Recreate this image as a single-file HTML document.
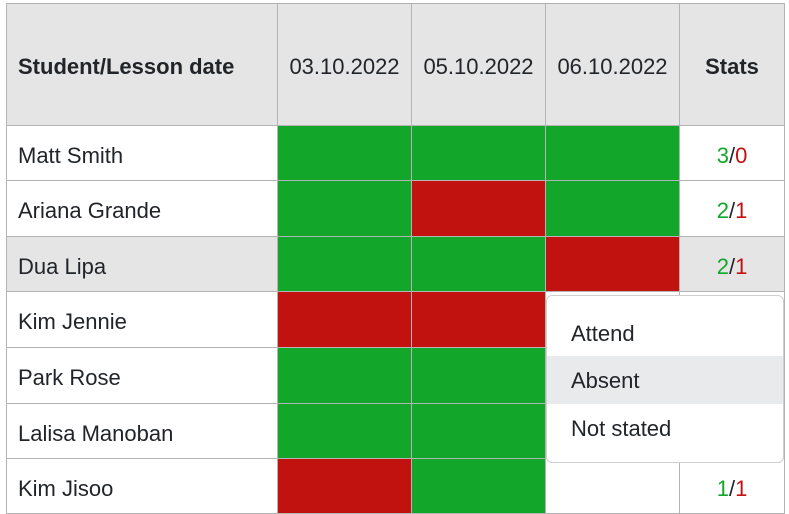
<!DOCTYPE html>
<html><head><meta charset="utf-8"><style>
body{margin:0;width:789px;height:514px;background:#fff;font-family:"Liberation Sans",sans-serif;color:#212529;position:relative;overflow:hidden}
.c{position:absolute;box-sizing:border-box;border:1px solid #b4b4b4;display:flex;align-items:center;font-size:22px;padding-top:5px}
.h{background:#e5e5e5;font-weight:bold;justify-content:center}
.n{padding-left:11px}
.s{justify-content:center}
#dd{position:absolute;left:546px;top:295px;width:238px;height:168px;background:#fff;border:1px solid #cfcfcf;border-radius:6px;box-sizing:border-box;font-size:22px}
.it{position:absolute;left:0;right:0;height:48px;line-height:50px;padding-left:24px}
</style></head><body>
<div id="tbl"></div>
<div id="dd">
<div class="it" style="top:13px">Attend</div>
<div class="it" style="top:60px;background:#e8eaec">Absent</div>
<div class="it" style="top:108px">Not stated</div>
</div>
<script>
const dates=["03.10.2022","05.10.2022","06.10.2022"];
const students=["Matt Smith","Ariana Grande","Dua Lipa","Kim Jennie","Park Rose","Lalisa Manoban","Kim Jisoo"];
const statuses=[["A","A","A"],["A","R","A"],["A","A","R"],["R","R",""],["A","A",""],["A","A",""],["R","A",""]];
const stats=[[3,0],[2,1],[2,1],null,null,null,[1,1]];
const colX=[6,277,411,545,679,784];
const rowY=[3,125,180,236,291,347,403,458,513];
const t=document.getElementById('tbl');
function cell(x0,x1,y0,y1,cls,html,name,inter){
 const d=document.createElement('div');d.className='c '+cls;
 d.style.left=x0+'px';d.style.top=y0+'px';d.style.width=(x1-x0+1)+'px';d.style.height=(y1-y0+1)+'px';
 d.innerHTML=html;
 
 
 t.appendChild(d);return d;}
const hd=cell(colX[0],colX[1],rowY[0],rowY[1],'h n','Student/Lesson date','header-student','false');hd.style.justifyContent='flex-start';
dates.forEach((d,i)=>{const e=cell(colX[i+1],colX[i+2],rowY[0],rowY[1],'h','',`header-date-${i+1}`,'false');e.textContent=d;e.style.fontWeight='normal';});
cell(colX[4],colX[5],rowY[0],rowY[1],'h','Stats','header-stats','false');
students.forEach((s,r)=>{
 const y0=rowY[r+1],y1=rowY[r+2];
 const bg=r===2?'#e5e5e5':'#fff';
 const n=cell(colX[0],colX[1],y0,y1,'n','',`student-name-${r+1}`,'false');n.textContent=s;n.style.background=bg;
 statuses[r].forEach((v,c)=>{const e=cell(colX[c+1],colX[c+2],y0,y1,'','',`status-cell-${r+1}-${c+1}`,'true');
  e.style.background=v==='A'?'#12a72a':v==='R'?'#c1120f':'#fff';});
 const st=stats[r];
 const e=cell(colX[4],colX[5],y0,y1,'s',st?`<span style="color:#12a72a">${st[0]}</span>/<span style="color:#c1120f">${st[1]}</span>`:'',`stats-${r+1}`,'false');
 e.style.background=bg;
});
</script>
</body></html>
